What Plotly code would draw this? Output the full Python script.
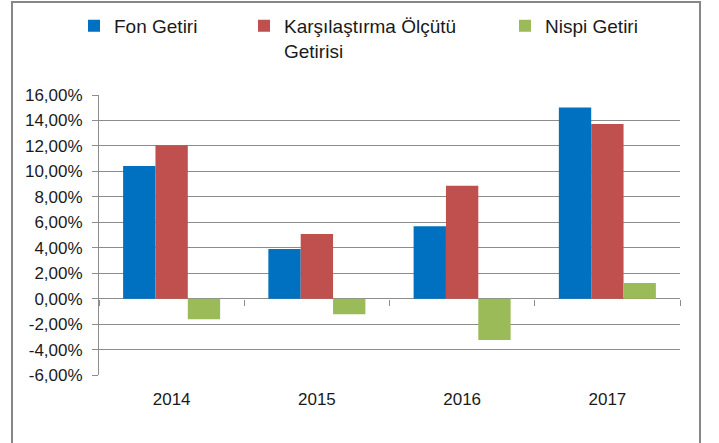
import plotly.graph_objects as go

# ---- data ----
years = ["2014", "2015", "2016", "2017"]
fon_getiri = [0.1042, 0.0390, 0.0569, 0.1502]
karsilastirma = [0.1205, 0.0508, 0.0887, 0.1373]
nispi_getiri = [-0.0162, -0.0122, -0.0325, 0.0122]
series_names = ["Fon Getiri", "Karşılaştırma Ölçütü<br>Getirisi", "Nispi Getiri"]
y_tick_vals = [-0.06, -0.04, -0.02, 0.0, 0.02, 0.04, 0.06, 0.08, 0.10, 0.12, 0.14, 0.16]
y_tick_text = ["-6,00%", "-4,00%", "-2,00%", "0,00%", "2,00%", "4,00%", "6,00%",
               "8,00%", "10,00%", "12,00%", "14,00%", "16,00%"]
boundary_vals = [-0.5, 0.5, 1.5, 2.5, 3.5]

# ---- layout geometry (pixels) ----
W_PX, H_PX = 719, 443
L, R, T, B = 99, 680, 95, 374.7
PW, PH = R - L, B - T


def px(x):
    return (x - L) / PW


def py(y):
    return (B - y) / PH


colors = ["#0070C0", "#C0504D", "#9BBB59"]
grid = "#8C8C8C"
font_family = "Liberation Sans, Arial, sans-serif"

fig = go.Figure()
for i, (vals, name) in enumerate(zip([fon_getiri, karsilastirma, nispi_getiri], series_names)):
    fig.add_trace(go.Bar(
        x=years, y=vals, name=name,
        marker=dict(color=colors[i], line=dict(width=0)),
        legend=["legend", "legend2", "legend3"][i],
        hovertemplate="%{x}: %{y:.2%}<extra></extra>",
    ))

# invisible helper trace so the category-boundary tick axis at y=0 is drawn
fig.add_trace(go.Scatter(x=[boundary_vals[0]], y=[0], xaxis="x2", mode="markers",
                         marker=dict(opacity=0), showlegend=False, hoverinfo="skip"))

ymin, ymax = y_tick_vals[0], y_tick_vals[-1]

legend_common = dict(
    orientation="v", xanchor="left", yanchor="top", bgcolor="rgba(0,0,0,0)",
    borderwidth=0, font=dict(family=font_family, size=19, color="#1a1a1a"),
    valign="top", itemclick=False, itemdoubleclick=False,
)

fig.update_layout(
    width=W_PX, height=H_PX,
    margin=dict(l=L, r=W_PX - R, t=T, b=H_PX - B, pad=0, autoexpand=False),
    paper_bgcolor="white", plot_bgcolor="white",
    barmode="group", bargap=0.332, bargroupgap=0,
    font=dict(family=font_family, size=17, color="#1a1a1a"),
    showlegend=True,
    legend=dict(x=px(114 - 40), y=py(7), **legend_common),
    legend2=dict(x=px(284 - 40), y=py(7), **legend_common),
    legend3=dict(x=px(545 - 40), y=py(7), **legend_common),
    xaxis=dict(
        type="category", categoryorder="array", categoryarray=years,
        range=[-0.5, 3.5], showgrid=False, zeroline=False, showline=False,
        ticks="", ticklabelstandoff=12, tickfont=dict(size=17),
    ),
    xaxis2=dict(
        overlaying="x", anchor="free", position=(0 - ymin) / (ymax - ymin),
        range=[-0.5, 3.5], tickmode="array", tickvals=boundary_vals,
        ticks="outside", ticklen=6, tickcolor=grid, tickwidth=1,
        showticklabels=False, showgrid=False, zeroline=False, showline=False,
    ),
    yaxis=dict(
        range=[ymin, ymax], tickmode="array", tickvals=y_tick_vals, ticktext=y_tick_text,
        showgrid=True, gridcolor=grid, gridwidth=1,
        zeroline=True, zerolinecolor=grid, zerolinewidth=1,
        showline=True, linecolor=grid, linewidth=1,
        ticks="outside", ticklen=6, tickcolor=grid,
        ticklabelstandoff=6, tickfont=dict(size=17),
    ),
    shapes=[dict(
        type="rect", xref="paper", yref="paper",
        x0=px(12), x1=px(700), y0=py(447), y1=py(2),
        line=dict(color="#878787", width=2), fillcolor="rgba(0,0,0,0)", layer="below",
    )],
)

fig.write_html("out.html", config={"displayModeBar": False},
               post_script="document.body.style.margin='0';")
